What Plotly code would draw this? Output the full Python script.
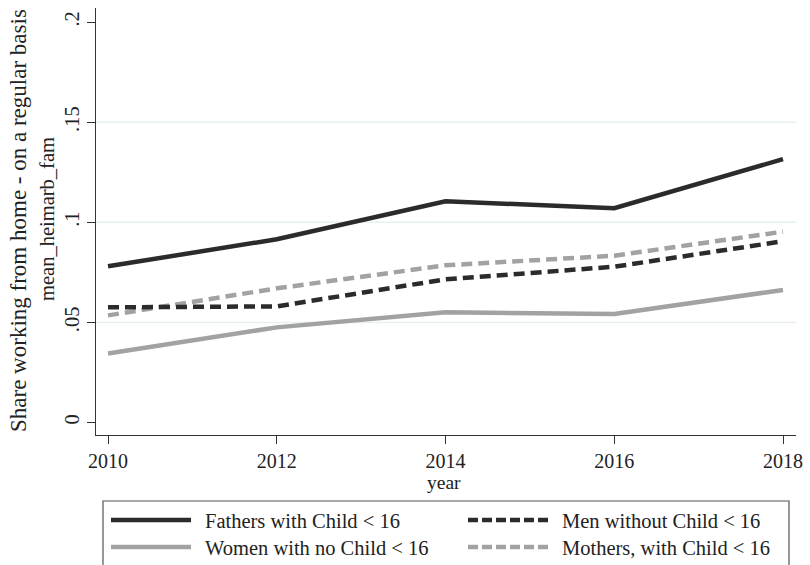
import plotly.graph_objects as go

# Survey years and group means of regular home-working
years = [2010, 2012, 2014, 2016, 2018]
fathers = [0.078, 0.0915, 0.1105, 0.107, 0.1315]
men_no_child = [0.0575, 0.058, 0.0715, 0.0778, 0.0905]
women_no_child = [0.0345, 0.0475, 0.055, 0.0542, 0.0662]
mothers = [0.0535, 0.067, 0.0785, 0.0833, 0.0953]

series_names = [
    "Fathers with Child < 16",
    "Men without Child < 16",
    "Women with no Child < 16",
    "Mothers, with Child < 16",
]

y_tick_vals = [0, 0.05, 0.1, 0.15, 0.2]
y_tick_text = ["0", ".05", ".1", ".15", ".2"]
grid_vals = [0.05, 0.1, 0.15]

FONT = "Liberation Serif, Times New Roman, serif"
DARK = "#2b2b2b"
LIGHT = "#a2a2a2"
DASH = "11px,6px"

styles = [
    dict(color=DARK, dash="solid"),
    dict(color=DARK, dash=DASH),
    dict(color=LIGHT, dash="solid"),
    dict(color=LIGHT, dash=DASH),
]
values = [fathers, men_no_child, women_no_child, mothers]

fig = go.Figure()
# draw light lines first so dark lines sit on top
for idx in [2, 3, 1, 0]:
    fig.add_trace(go.Scatter(
        x=years, y=values[idx], mode="lines", name=series_names[idx],
        line=dict(color=styles[idx]["color"], dash=styles[idx]["dash"], width=4.5),
        showlegend=False, hoverinfo="skip",
    ))

# plot area geometry in pixels
W, H = 810, 565
L, R, T, B = 96, 796, 8, 435
pw, ph = R - L, B - T


def px(xp):
    return (xp - L) / pw


def py(yp):
    return (B - yp) / ph


shapes = []
# horizontal grid lines at interior ticks
for g in grid_vals:
    shapes.append(dict(type="line", xref="paper", yref="y", x0=0, x1=1, y0=g, y1=g,
                       line=dict(color="#e6eff1", width=1.5), layer="below"))

# legend frame
shapes.append(dict(type="rect", xref="paper", yref="paper",
                   x0=px(103), x1=px(789), y0=py(600), y1=py(501),
                   line=dict(color="#555555", width=1.2)))

annotations = []
legend_pos = [(111, 520), (468, 520), (111, 547), (468, 547)]
for i, (lx, ly) in enumerate(legend_pos):
    shapes.append(dict(type="line", xref="paper", yref="paper",
                       x0=px(lx), x1=px(lx + 80), y0=py(ly), y1=py(ly),
                       line=dict(color=styles[i]["color"],
                                 dash=("10px,4px" if styles[i]["dash"] != "solid" else "solid"),
                                 width=4.5)))
    annotations.append(dict(text=series_names[i], xref="paper", yref="paper",
                            x=px(lx + 92), y=py(ly + 1), xanchor="left", yanchor="middle",
                            showarrow=False, font=dict(family=FONT, size=20.5, color="#222222")))

# two-line vertical y title
annotations.append(dict(text="Share working from home - on a regular basis",
                        xref="paper", yref="paper", x=px(18), y=py(221),
                        xanchor="center", yanchor="middle", textangle=-90, showarrow=False,
                        font=dict(family=FONT, size=23, color="#222222")))
annotations.append(dict(text="mean_heimarb_fam",
                        xref="paper", yref="paper", x=px(47), y=py(219),
                        xanchor="center", yanchor="middle", textangle=-90, showarrow=False,
                        font=dict(family=FONT, size=20.5, color="#222222")))
annotations.append(dict(text="year", xref="paper", yref="paper", x=px(444), y=py(483),
                        xanchor="center", yanchor="middle", showarrow=False,
                        font=dict(family=FONT, size=19.5, color="#222222")))

x_per_px = 8 / (783 - 108)
y_per_px = 0.2 / (422.5 - 22)

fig.update_layout(
    width=W, height=H,
    margin=dict(l=L, r=W - R, t=T, b=H - B),
    paper_bgcolor="white", plot_bgcolor="white",
    font=dict(family=FONT, color="#222222"),
    shapes=shapes, annotations=annotations,
    xaxis=dict(
        range=[2010 - (108 - L) * x_per_px, 2018 + (R - 783) * x_per_px],
        tickvals=years, ticktext=[str(y) for y in years],
        showgrid=False, zeroline=False,
        showline=True, linecolor="#333333", linewidth=1.3,
        ticks="outside", ticklen=8, tickcolor="#333333", tickwidth=1.3,
        ticklabelstandoff=0,
        tickfont=dict(family=FONT, size=20, color="#222222"),
    ),
    yaxis=dict(
        range=[-(B - 422.5) * y_per_px, 0.2 + (22 - T) * y_per_px],
        tickvals=y_tick_vals, ticktext=y_tick_text, tickangle=-90,
        showgrid=False, zeroline=False,
        showline=True, linecolor="#333333", linewidth=1.3,
        ticks="outside", ticklen=8, tickcolor="#333333", tickwidth=1.3,
        tickfont=dict(family=FONT, size=20.5, color="#222222"),
    ),
)

fig.write_html("out.html")
